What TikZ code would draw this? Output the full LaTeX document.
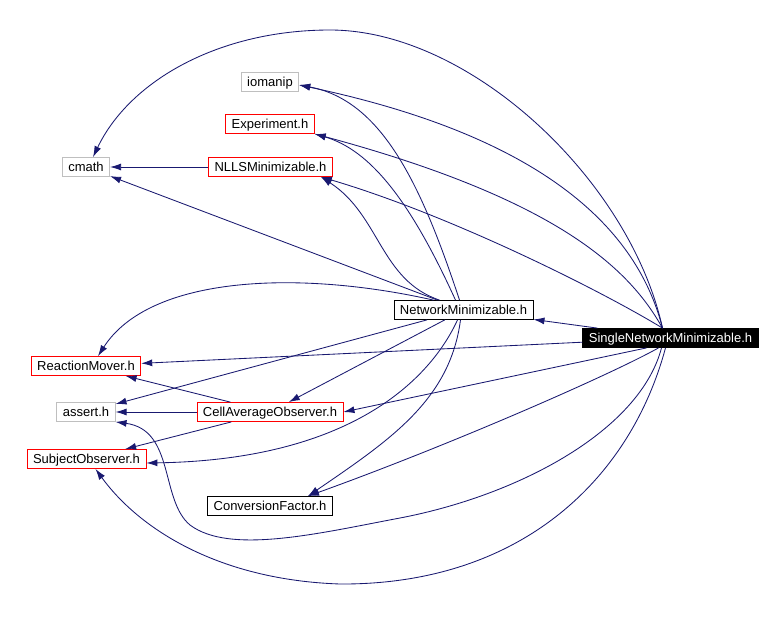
\documentclass[tikz,border=0pt]{standalone}
\usepackage{fontspec}
\setmainfont{Liberation Sans}
\usetikzlibrary{arrows.meta, positioning}

\definecolor{edgeblue}{RGB}{25,25,112}
\definecolor{sysgray}{RGB}{191,191,191}

\begin{document}
\begin{tikzpicture}[
    x=1pt, y=-1pt,
    file node/.style={rectangle, draw, line width=0.8pt, minimum height=19pt, inner xsep=6pt, inner ysep=0pt,
        text height=10.5pt, text depth=1.5pt, font=\fontsize{13}{15}\selectfont},
    red node/.style={file node, draw=red},
    sys node/.style={file node, draw=sysgray},
    main node/.style={file node, fill=black, text=white},
    arrow/.style={-{Latex[length=11pt,width=7pt]}, edgeblue, line width=0.85pt}
    ]

    \useasboundingbox (0,0) rectangle (782,619);

    % headers
    \node[sys node] (iomanip) at (270,82) {iomanip};
    \node[red node] (Experiment) at (270,124) {Experiment.h};
    \node[sys node] (cmath) at (86,167) {cmath};
    \node[red node] (NLLS) at (270.5,167) {NLLSMinimizable.h};
    \node[file node] (NM) at (463.5,310) {NetworkMinimizable.h};
    \node[main node] (SNM) at (670.5,338) {SingleNetworkMinimizable.h};
    \node[red node] (RM) at (86,366) {ReactionMover.h};
    \node[sys node] (assert) at (86,412) {assert.h};
    \node[red node] (CAO) at (270,412) {CellAverageObserver.h};
    \node[red node] (SO) at (86.5,459) {SubjectObserver.h};
    \node[file node] (CF) at (270,506) {ConversionFactor.h};

    % straight includes
    \draw[arrow] (NLLS) -- (cmath);
    \draw[arrow] (NM) -- (cmath);
    \draw[arrow] (NM) -- (assert);
    \draw[arrow] (NM) -- (CAO);
    \draw[arrow] (SNM) -- (NM);
    \draw[arrow] (SNM) -- (RM);
    \draw[arrow] ([xshift=-24pt]SNM.south) -- (CAO.east);
    \draw[arrow] (CAO) -- (RM);
    \draw[arrow] (CAO) -- (assert);
    \draw[arrow] (CAO) -- (SO);

    % curved includes of NetworkMinimizable.h
    \draw[arrow] ([xshift=-24pt]NM.north) .. controls (380,280) and (380,215) .. ([xshift=-12pt]NLLS.south east);
    \draw[arrow] ([xshift=-4pt]NM.north) .. controls (420,180) and (380,100) .. ([yshift=-3pt]iomanip.east);
    \draw[arrow] ([xshift=-8pt]NM.north) .. controls (410,200) and (370,150) .. (Experiment.south east);
    \draw[arrow] ([xshift=-30pt]NM.north) .. controls (300,270) and (150,275) .. ([xshift=12pt]RM.north);
    \draw[arrow] ([xshift=-6pt]NM.south) .. controls (430,380) and (350,460) .. ([yshift=-4pt]SO.east);
    \draw[arrow] ([xshift=-3pt]NM.south) .. controls (450,400) and (390,440) .. ([xshift=38pt]CF.north);

    % curved includes of SingleNetworkMinimizable.h
    \draw[arrow] ([xshift=-8pt]SNM.north) .. controls (630,180) and (470,30) .. (330,30)
        .. controls (220,30) and (130,80) .. ([xshift=7pt]cmath.north);
    \draw[arrow] ([xshift=-8pt]SNM.north) .. controls (640,240) and (560,140) .. ([yshift=-3pt]iomanip.east);
    \draw[arrow] ([xshift=-8pt]SNM.north) .. controls (630,270) and (560,200) .. (Experiment.south east);
    \draw[arrow] ([xshift=-8pt]SNM.north) .. controls (600,290) and (450,215) .. ([xshift=-12pt]NLLS.south east);
    \draw[arrow] ([xshift=-12pt]SNM.south) .. controls (610,375) and (450,445) .. ([xshift=38pt]CF.north);
    \draw[arrow] ([xshift=-9pt]SNM.south) .. controls (640,430) and (520,495) .. (400,518)
        .. controls (320,533) and (230,555) .. (190,525)
        .. controls (160,500) and (175,430) .. (assert.south east);
    \draw[arrow] ([xshift=-5pt]SNM.south) .. controls (630,480) and (520,585) .. (340,584)
        .. controls (220,580) and (140,530) .. ([xshift=9pt]SO.south);

\end{tikzpicture}
\end{document}
